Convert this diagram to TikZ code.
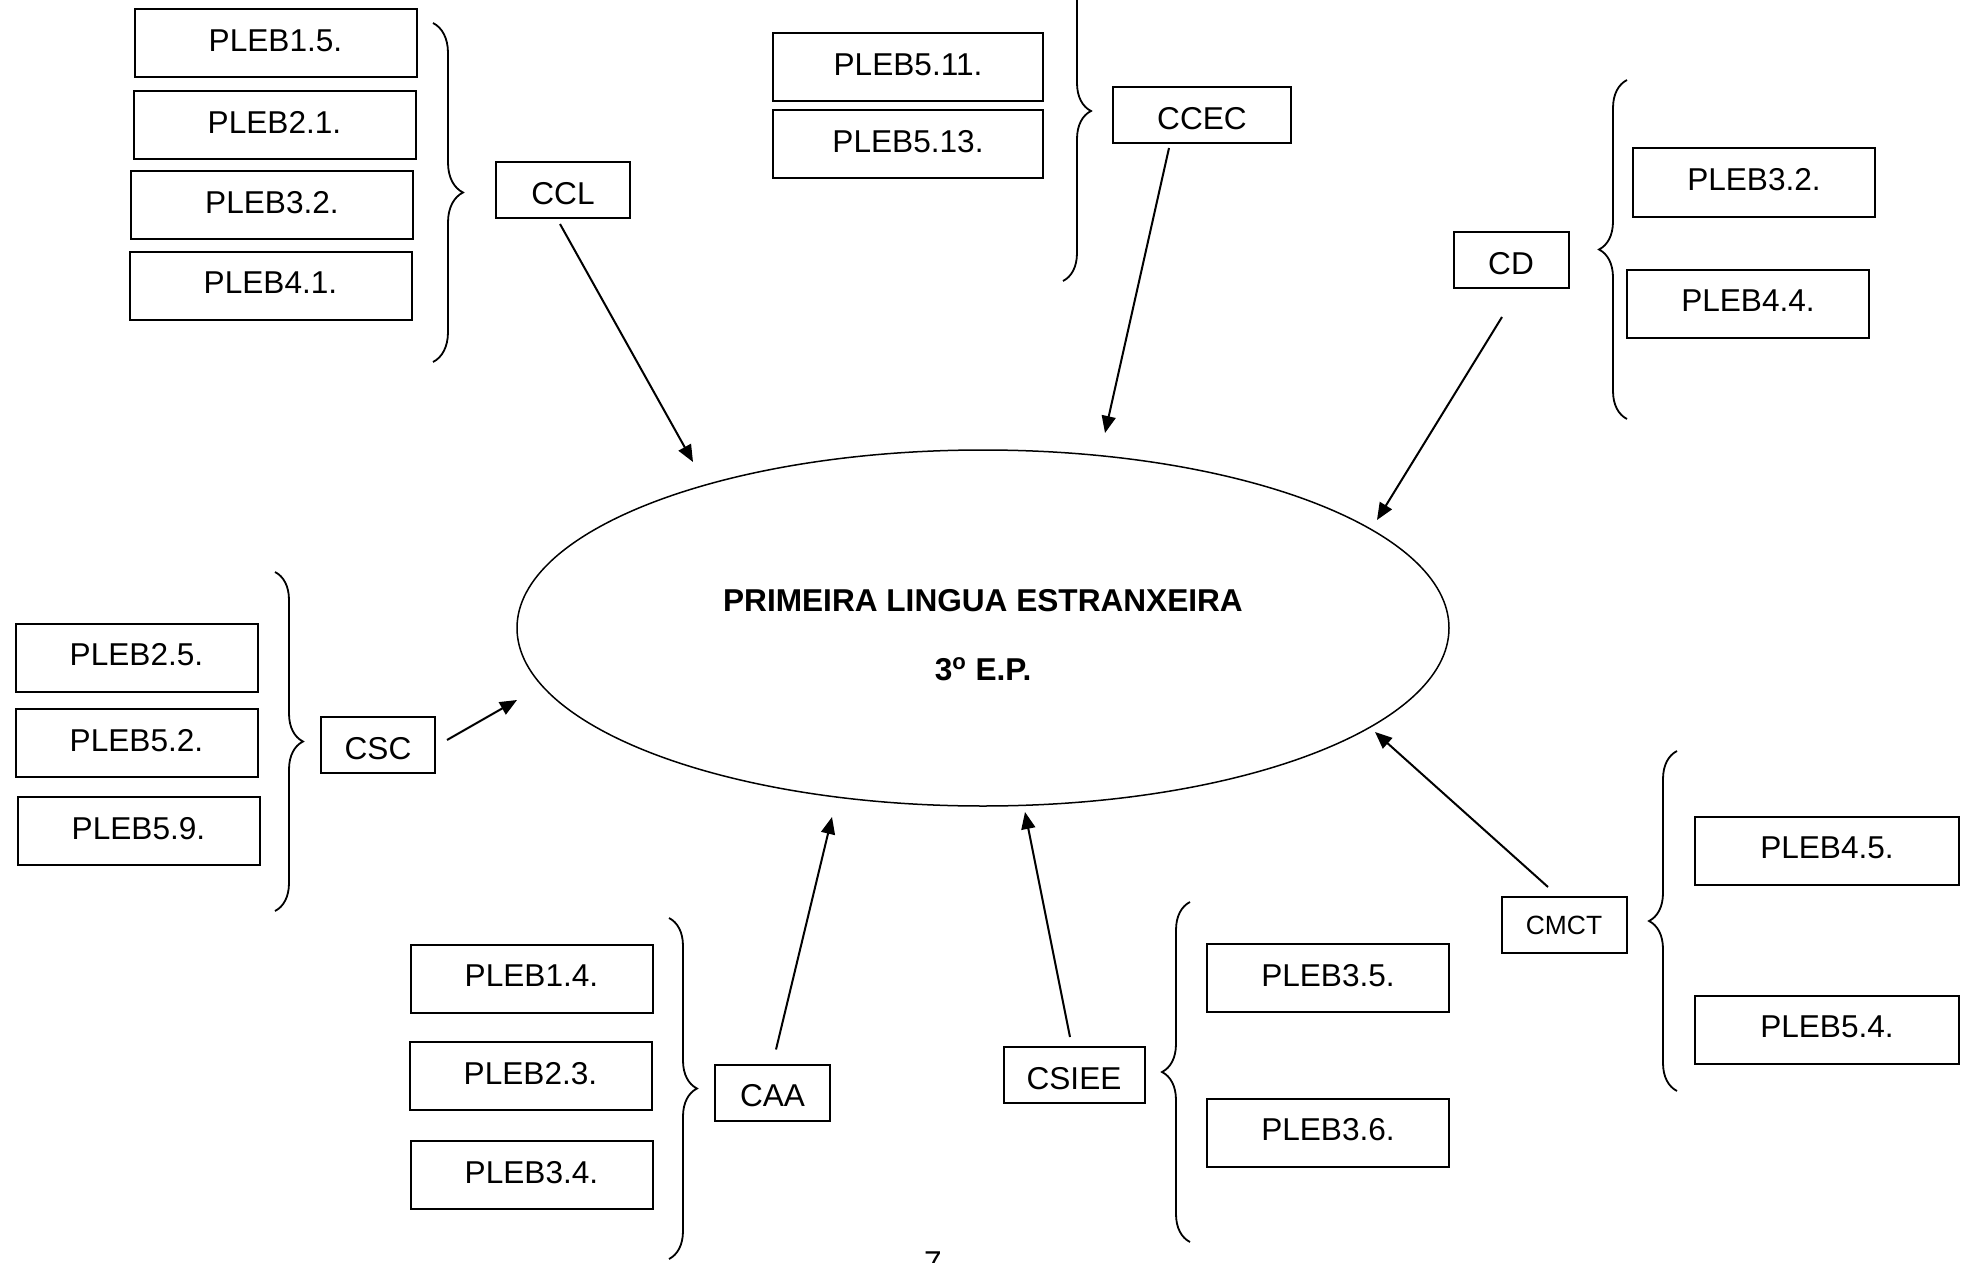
\documentclass[tikz,border=0pt]{standalone}
\usepackage{fontspec}
\setmainfont{Liberation Sans}
\usepackage{tikz}
\usetikzlibrary{arrows.meta, shapes.geometric, decorations.pathreplacing}

\begin{document}
\begin{tikzpicture}[x=0.5pt, y=-0.5pt,
        pleb/.style={draw, line width=1pt, minimum width=#1, minimum height=34pt, inner sep=0pt,
            text depth=3pt, font=\fontsize{15.8pt}{19pt}\selectfont},
        pleb/.default=121pt,
        comp/.style={draw, line width=1pt, minimum width=#1, minimum height=28pt, inner sep=0pt,
            text height=14.3pt, text depth=0pt, font=\fontsize{15.8pt}{19pt}\selectfont},
        brc/.style={decorate, decoration={brace, amplitude=#1}, line width=0.9pt},
        brc/.default=14pt,
        arr/.style={-{Triangle[length=8.5pt, width=7pt]}, line width=1pt}]
    \useasboundingbox (0,0) rectangle (1977,1263);
    \clip (0,0) rectangle (1977,1263);
    % centre
    \node[ellipse, draw, line width=0.75pt, minimum width=466pt, minimum height=178pt] (ple) at (983,628) {};
    \node[align=center, font=\bfseries\fontsize{15.8pt}{19pt}\selectfont] (ttl) at ([yshift=-3.5pt]ple.center)
        {PRIMEIRA LINGUA ESTRANXEIRA\\[15.5pt]3\textsuperscript{o} E.P.};
    % CCL
    \node[pleb=141pt] (p15) at (275.5,43.5) {PLEB1.5.};
    \node[pleb=141pt] (p21) at (274.5,125) {PLEB2.1.};
    \node[pleb=141pt] (p32) at (272,205) {PLEB3.2.};
    \node[pleb=141pt] (p41) at (270.5,286) {PLEB4.1.};
    \draw[brc=15pt] (433,23) -- (433,362);
    \node[comp=66.75pt] (ccl) at (563,190) {CCL};
    % CCEC
    \node[pleb=135pt] (p511) at (908,67.5) {PLEB5.11.};
    \node[pleb=135pt] (p513) at (908,144) {PLEB5.13.};
    \draw[brc] (1063,-59) -- (1063,281);
    \node[comp=89pt] (ccec) at (1202,115) {CCEC};
    % CD
    \node[comp=57.5pt] (cd) at (1511,260) {CD};
    \draw[brc] (1627,419) -- (1627,80);
    \node[pleb] (p32b) at (1754,182.5) {PLEB3.2.};
    \node[pleb] (p44) at (1748,304) {PLEB4.4.};
    % CSC
    \node[pleb] (p25) at (136.5,657.5) {PLEB2.5.};
    \node[pleb] (p52) at (136.5,743) {PLEB5.2.};
    \node[pleb] (p59) at (138.5,831) {PLEB5.9.};
    \draw[brc] (275,572) -- (275,911);
    \node[comp=57pt] (csc) at (378,745) {CSC};
    % CAA
    \node[pleb] (p14) at (531.5,979) {PLEB1.4.};
    \node[pleb] (p23) at (530.5,1076) {PLEB2.3.};
    \node[pleb] (p34) at (531.5,1175) {PLEB3.4.};
    \draw[brc] (669,918) -- (669,1259);
    \node[comp=57.5pt] (caa) at (772.5,1092.5) {CAA};
    % CSIEE
    \node[comp=70.5pt] (csiee) at (1074,1075) {CSIEE};
    \draw[brc] (1190,1242) -- (1190,902);
    \node[pleb] (p35) at (1328,978) {PLEB3.5.};
    \node[pleb] (p36) at (1328,1132.5) {PLEB3.6.};
    % CMCT
    \node[comp=62.5pt, text height=9.6pt, font=\fontsize{13.2pt}{16pt}\selectfont] (cmct) at (1564,925) {CMCT};
    \draw[brc] (1677,1091) -- (1677,751);
    \node[pleb=132pt] (p45) at (1827,850.5) {PLEB4.5.};
    \node[pleb=132pt] (p54) at (1827,1030) {PLEB5.4.};
    % page number
    \node[anchor=base, font=\fontsize{15.8pt}{19pt}\selectfont] (pg) at (933,1273) {7};
    % arrows into the ellipse
    \coordinate (tccl) at (693,462);
    \coordinate (tccec) at (1105,433);
    \coordinate (tcd) at (1377,520);
    \coordinate (tcsc) at (517,700);
    \coordinate (tcaa) at (832,817);
    \coordinate (tcsiee) at (1025,812);
    \coordinate (tcmct) at (1375,732);
    \draw[arr] ([xshift=-1.5pt,yshift=-2.5pt]ccl.south) -- (tccl);
    \draw[arr] ([xshift=-16.5pt,yshift=-2pt]ccec.south) -- (tccec);
    \draw[arr] ([xshift=-4.5pt,yshift=-14pt]cd.south) -- (tcd);
    \draw[arr] ([xshift=5.5pt,yshift=2.5pt]csc.east) -- (tcsc);
    \draw[arr] ([xshift=1.75pt,yshift=7pt]caa.north) -- (tcaa);
    \draw[arr] ([xshift=-2pt,yshift=4.5pt]csiee.north) -- (tcsiee);
    \draw[arr] ([xshift=-8pt,yshift=4.5pt]cmct.north) -- (tcmct);
\end{tikzpicture}
\end{document}
